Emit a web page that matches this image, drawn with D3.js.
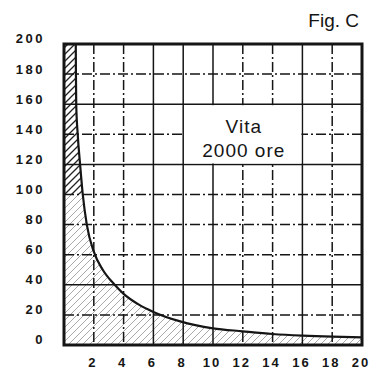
<!DOCTYPE html>
<html><head><meta charset="utf-8">
<script src="https://cdn.jsdelivr.net/npm/d3@7"></script>
<style>
html,body{margin:0;padding:0;background:#fff;}
svg{display:block;}
</style></head>
<body>
<svg id="c" width="372" height="372"></svg>
<script>
// ---- data ----
const xTicks = [2,4,6,8,10,12,14,16,18,20];
const yTicks = [0,20,40,60,80,100,120,140,160,180,200];
const curveX = [0.79,0.80,0.82,0.92,1.08,1.26,1.53,2.0,2.6,3.4,4,5,6,7.8,10,12,14,16,18,20];
const curveY = [200,180,160,140,120,100,80,62,50,40,34,27,22,15.7,11.1,9.1,7.3,6.2,5.5,5.1];
const title = "Fig. C";
const noteLines = ["Vita","2000 ore"];
const noteBox = [8,16,120,160]; // x0,x1,y0,y1 in data units

// ---- layout ----
const svg = d3.select("#c");
const x = d3.scaleLinear().domain([0,20]).range([64,362]);
const y = d3.scaleLinear().domain([0,200]).range([345,44]);
const ink = "#151515";
const solidX = new Set([6,8,10,16]);
const solidY = new Set([40,120,160]);
const dash = "10,3,2,3";

const defs = svg.append("defs");
function hatch(id, color, w){
  const p = defs.append("pattern").attr("id",id).attr("patternUnits","userSpaceOnUse")
    .attr("width",7).attr("height",7);
  p.append("path").attr("d","M-2,2 L2,-2 M0,7 L7,0 M5,9 L9,5")
    .attr("stroke",color).attr("stroke-width",w).attr("fill","none");
}
hatch("hDark","#222",1.3);
hatch("hLight","#a8a8a8",1);
defs.append("clipPath").attr("id","clipTop").append("rect")
  .attr("x",0).attr("y",0).attr("width",372).attr("height",y(100));
defs.append("clipPath").attr("id","clipBot").append("rect")
  .attr("x",0).attr("y",y(100)).attr("width",372).attr("height",372-y(100));

const pts = curveX.map((d,i)=>[d,curveY[i]]);
const areaPts = [[0,200]].concat(pts);
const area = d3.area().x(d=>x(d[0])).y0(y(0)).y1(d=>y(d[1])).curve(d3.curveMonotoneX);
svg.append("path").attr("d",area(areaPts)).attr("fill","url(#hDark)").attr("clip-path","url(#clipTop)");
svg.append("path").attr("d",area(areaPts)).attr("fill","url(#hLight)").attr("clip-path","url(#clipBot)");

// grid
const g = svg.append("g");
g.selectAll("line.v").data(xTicks.filter(d=>d<20)).enter().append("line")
  .attr("x1",d=>x(d)).attr("x2",d=>x(d)).attr("y1",y(200)).attr("y2",y(0))
  .attr("stroke",ink).attr("stroke-width",1.5)
  .attr("stroke-dasharray",d=>solidX.has(d)?null:dash);
g.selectAll("line.h").data(yTicks.filter(d=>d>0&&d<200)).enter().append("line")
  .attr("y1",d=>y(d)).attr("y2",d=>y(d)).attr("x1",x(0)).attr("x2",x(20))
  .attr("stroke",ink).attr("stroke-width",1.5)
  .attr("stroke-dasharray",d=>solidY.has(d)?null:dash);

// white box for note
svg.append("rect").attr("x",x(noteBox[0])+1).attr("y",y(noteBox[3])+1)
  .attr("width",x(noteBox[1])-x(noteBox[0])-2).attr("height",y(noteBox[2])-y(noteBox[3])-2)
  .attr("fill","#fff");

// curve
const line = d3.line().x(d=>x(d[0])).y(d=>y(d[1])).curve(d3.curveMonotoneX);
svg.append("path").attr("d",line(pts)).attr("fill","none").attr("stroke",ink).attr("stroke-width",2.2);

// frame
svg.append("rect").attr("x",x(0)).attr("y",y(200)).attr("width",x(20)-x(0)).attr("height",y(0)-y(200))
  .attr("fill","none").attr("stroke",ink).attr("stroke-width",3);

// axis labels
const font = "'Liberation Sans', Arial, sans-serif";
svg.append("g").selectAll("text").data(yTicks).enter().append("text")
  .attr("x",45).attr("y",d=>y(d)-4).attr("text-anchor","end").attr("dominant-baseline","middle")
  .attr("font-family",font).attr("font-weight","bold").attr("font-size",13)
  .attr("letter-spacing","2.5px").attr("fill",ink).text(d=>d);
svg.append("g").selectAll("text").data(xTicks).enter().append("text")
  .attr("x",d=>x(d)-1).attr("y",364).attr("text-anchor","middle").attr("dominant-baseline","middle")
  .attr("font-family",font).attr("font-weight","bold").attr("font-size",13)
  .attr("letter-spacing","2px").attr("fill",ink).text(d=>d);

// title
svg.append("text").attr("x",359).attr("y",27).attr("text-anchor","end")
  .attr("font-family",font).attr("font-size",19).attr("fill",ink).text(title);

// note
svg.append("g").selectAll("text").data(noteLines).enter().append("text")
  .attr("x",x((noteBox[0]+noteBox[1])/2)+1).attr("y",(d,i)=>133+i*24).attr("text-anchor","middle")
  .attr("font-family",font).attr("font-size",19).attr("letter-spacing","1px").attr("fill",ink).text(d=>d);
</script>
</body></html>
